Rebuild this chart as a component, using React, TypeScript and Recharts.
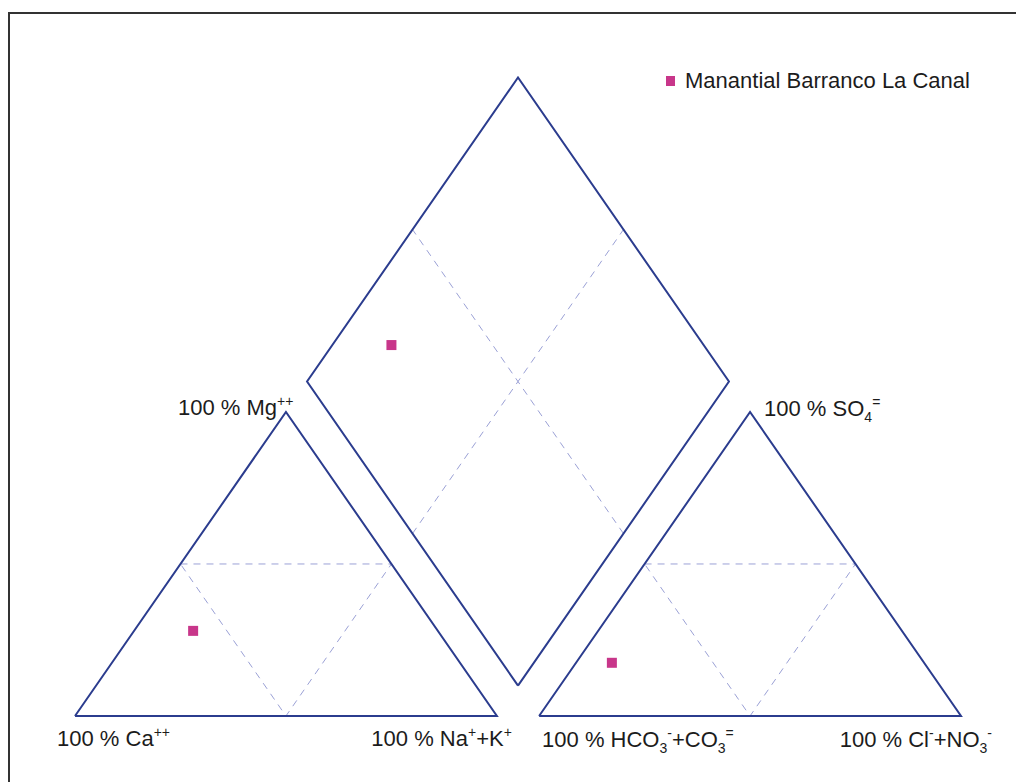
import { Legend, ReferenceDot, Scatter, ScatterChart, XAxis, YAxis } from "recharts";

const GAP = 10;
const H = Math.sqrt(3) / 2;

const BLUE = "#2b3c8e";
const GRID = "#9ba1d6";
const MAGENTA = "#c8368a";
const INK = "#1c1c1c";

// sample, % meq/l
const sampleName = "Manantial Barranco La Canal";
const cationSample = [58, 28, 14]; // Ca, Mg, Na+K
const anionSample = [74, 17.5, 8.5]; // HCO3+CO3, SO4, Cl+NO3

// triangle paths as [left corner %, top %, right corner %]
const triangleCorners = [
  [100, 0, 0],
  [0, 100, 0],
  [0, 0, 100],
  [100, 0, 0],
];
const triangleGrid = [
  [50, 50, 0],
  [0, 50, 50],
  [50, 0, 50],
  [50, 50, 0],
];

// diamond paths as [Ca+Mg %, SO4+Cl %]
const diamondCorners = [
  [0, 0],
  [100, 0],
  [100, 100],
  [0, 100],
  [0, 0],
];
const diamondGridA = [
  [50, 0],
  [50, 100],
];
const diamondGridB = [
  [0, 50],
  [100, 50],
];

type Part = { t: string; sup?: boolean; sub?: boolean };
const vertexLabels: { where: "cat" | "an"; corner: number; dx: number; dy: number; anchor: "start" | "end"; parts: Part[] }[] = [
  { where: "cat", corner: 0, dx: -18, dy: 30, anchor: "start", parts: [{ t: "100 % Ca" }, { t: "++", sup: true }] },
  { where: "cat", corner: 1, dx: -108, dy: 3, anchor: "start", parts: [{ t: "100 % Mg" }, { t: "++", sup: true }] },
  { where: "cat", corner: 2, dx: 15, dy: 30, anchor: "end", parts: [{ t: "100 % Na" }, { t: "+", sup: true }, { t: "+K" }, { t: "+", sup: true }] },
  { where: "an", corner: 0, dx: 3, dy: 31, anchor: "start", parts: [{ t: "100 % HCO" }, { t: "3", sub: true }, { t: "-", sup: true }, { t: "+CO" }, { t: "3", sub: true }, { t: "=", sup: true }] },
  { where: "an", corner: 1, dx: 14, dy: 4, anchor: "start", parts: [{ t: "100 % SO" }, { t: "4", sub: true }, { t: "=", sup: true }] },
  { where: "an", corner: 2, dx: 31, dy: 31, anchor: "end", parts: [{ t: "100 % Cl" }, { t: "-", sup: true }, { t: "+NO" }, { t: "3", sub: true }, { t: "-", sup: true }] },
];

const tern = (p: number[], x0: number) => ({ x: x0 + p[2] + p[1] / 2, y: p[1] * H });
const cat = (p: number[]) => tern(p, 0);
const an = (p: number[]) => tern(p, 100 + GAP);
const dia = (p: number[]) => ({ x: 100 + GAP / 2 + (p[1] - p[0]) / 2, y: GAP * H + (p[0] + p[1]) * H });

const diamondSample = [cationSample[0] + cationSample[1], anionSample[1] + anionSample[2]];

const noShape = () => <g />;
const square = (props: any) => (
  <rect x={props.cx - 5} y={props.cy - 5} width={10} height={10} fill={MAGENTA} />
);

function renderLabel(parts: Part[], dx: number, dy: number, anchor: "start" | "end") {
  return (props: any) => {
    const vb = props.viewBox || {};
    const x = (vb.x ?? 0) + (vb.width ?? 0) / 2 + dx;
    const y = (vb.y ?? 0) + (vb.height ?? 0) / 2 + dy;
    let shift = 0;
    return (
      <text x={x} y={y} fontSize={22} fontFamily="'Liberation Sans', Arial, sans-serif" fill={INK} textAnchor={anchor}>
        {parts.map((p, i) => {
          const target = p.sup ? -9 : p.sub ? 6 : 0;
          const d = target - shift;
          shift = target;
          return (
            <tspan key={i} dy={d} fontSize={p.sup || p.sub ? 14 : 22}>
              {p.t}
            </tspan>
          );
        })}
      </text>
    );
  };
}

function LegendBox() {
  return (
    <div style={{ display: "flex", alignItems: "center", fontFamily: "'Liberation Sans', Arial, sans-serif", fontSize: 22, color: INK, whiteSpace: "nowrap" }}>
      <span style={{ width: 9, height: 10, background: MAGENTA, display: "inline-block", marginRight: 10 }} />
      {sampleName}
    </div>
  );
}

export default function App() {
  return (
    <div style={{ position: "absolute", left: 0, top: 0, width: 1016, height: 782, background: "#fff", overflow: "hidden" }}>
      <div style={{ position: "absolute", left: 8, top: 12, width: 1100, height: 770, borderTop: "2px solid #333", borderLeft: "2px solid #333" }} />
      <ScatterChart width={1016} height={782} margin={{ top: 77.5, right: 55, bottom: 66, left: 75 }}>
        <XAxis type="number" dataKey="x" domain={[0, 200 + GAP]} hide />
        <YAxis type="number" dataKey="y" domain={[0, 200 * H + GAP * H]} hide />
        <Legend
          layout="horizontal"
          verticalAlign="middle"
          align="center"
          wrapperStyle={{ top: 68, left: 666, width: 340 }}
          content={() => <LegendBox />}
        />
        <Scatter data={triangleGrid.map(cat)} line={{ stroke: GRID, strokeWidth: 1, strokeDasharray: "7 6" }} shape={noShape} legendType="none" isAnimationActive={false} />
        <Scatter data={triangleGrid.map(an)} line={{ stroke: GRID, strokeWidth: 1, strokeDasharray: "7 6" }} shape={noShape} legendType="none" isAnimationActive={false} />
        <Scatter data={diamondGridA.map(dia)} line={{ stroke: GRID, strokeWidth: 1, strokeDasharray: "7 6" }} shape={noShape} legendType="none" isAnimationActive={false} />
        <Scatter data={diamondGridB.map(dia)} line={{ stroke: GRID, strokeWidth: 1, strokeDasharray: "7 6" }} shape={noShape} legendType="none" isAnimationActive={false} />
        <Scatter data={triangleCorners.map(cat)} line={{ stroke: BLUE, strokeWidth: 2 }} shape={noShape} legendType="none" isAnimationActive={false} />
        <Scatter data={triangleCorners.map(an)} line={{ stroke: BLUE, strokeWidth: 2 }} shape={noShape} legendType="none" isAnimationActive={false} />
        <Scatter data={diamondCorners.map(dia)} line={{ stroke: BLUE, strokeWidth: 2 }} shape={noShape} legendType="none" isAnimationActive={false} />
        <Scatter name={sampleName} data={[cat(cationSample), an(anionSample), dia(diamondSample)]} fill={MAGENTA} shape={square} isAnimationActive={false} />
        {vertexLabels.map((l, i) => {
          const p = l.where === "cat" ? cat(triangleCorners[l.corner]) : an(triangleCorners[l.corner]);
          return (
            <ReferenceDot
              key={i}
              x={p.x}
              y={p.y}
              r={1}
              fill="none"
              stroke="none"
              ifOverflow="visible"
              label={{ content: renderLabel(l.parts, l.dx, l.dy, l.anchor) }}
            />
          );
        })}
      </ScatterChart>
    </div>
  );
}
